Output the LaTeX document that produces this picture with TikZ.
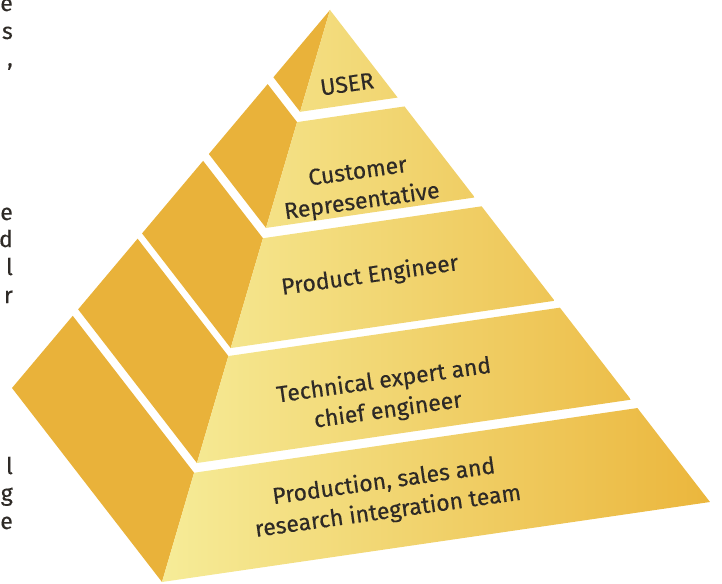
\documentclass[tikz,border=0pt]{standalone}
\usepackage{fontspec}
\setmainfont{Fira Sans}[FakeBold=0.35]
\usetikzlibrary{calc}
\definecolor{sidegold}{HTML}{E9B23A}
\definecolor{frontpale}{HTML}{F6EC98}
\definecolor{frontmid}{HTML}{F1D46C}
\definecolor{frontgold}{HTML}{EBB63C}
\definecolor{inkgray}{HTML}{2E2A26}

\begin{document}
\begin{tikzpicture}[x=1pt, y=-1pt,
    lbl/.style={text=inkgray, align=center, rotate=8, inner sep=0pt,
                font=\fontsize{23}{30}\selectfont},
    frag/.style={text=inkgray, anchor=base east, inner sep=0pt,
                 font=\fontsize{23}{30}\selectfont}]
\useasboundingbox (0,0) rectangle (722,583);
\clip (0,0) rectangle (722,583);
\coordinate (A) at (330,10);
\coordinate (L) at (12,388);
\coordinate (F) at (162,582);
\coordinate (R) at (710,502);
\foreach \ta/\tb in {0/0.178, 0.196/0.381, 0.399/0.591, 0.605/0.792, 0.809/1}{
  \fill[sidegold] ($(A)!\ta!(L)$) -- ($(A)!\tb!(L)$) -- ($(A)!\tb!(F)$) -- ($(A)!\ta!(F)$) -- cycle;
  \begin{scope}
    \clip ($(A)!\ta!(F)$) -- ($(A)!\tb!(F)$) -- ($(A)!\tb!(R)$) -- ($(A)!\ta!(R)$) -- cycle;
    \shade[left color=frontpale, middle color=frontmid, right color=frontgold] (162,0) rectangle (712,583);
  \end{scope}
}
\node[lbl] (user) at (347,84) {USER};
\node[lbl] (cust) at (360,188) {Customer\\Representative};
\node[lbl] (prod) at (370,276) {Product Engineer};
\node[lbl] (tech) at (386,396) {Technical expert and\\chief engineer};
\node[lbl] (team) at (386,497) {Production, sales and\\research integration team};
\node[frag] (fa) at (13,11) {e};
\node[frag] (fb) at (13,39) {s};
\node[frag] (fc) at (13,66) {,};
\node[frag] (fd) at (13,220) {e};
\node[frag] (fe) at (13,247) {d};
\node[frag] (ff) at (13,275) {l};
\node[frag] (fg) at (13,303) {r};
\node[frag] (fh) at (13,474) {l};
\node[frag] (fi) at (13,501) {g};
\node[frag] (fj) at (13,529) {e};
\end{tikzpicture}
\end{document}
